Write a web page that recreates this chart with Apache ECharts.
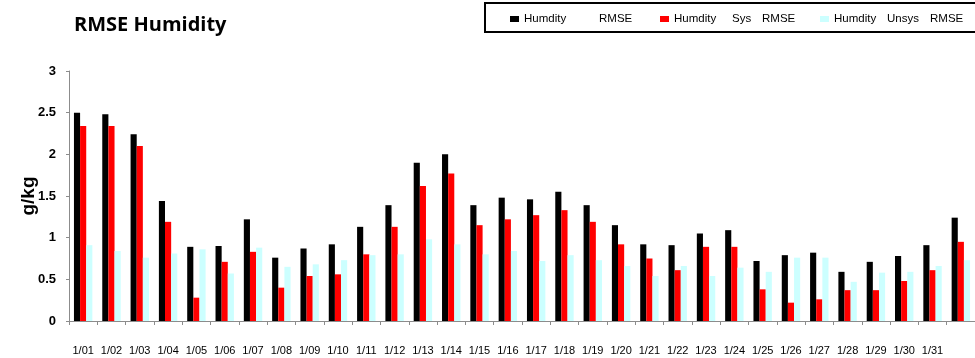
<!DOCTYPE html>
<html>
<head>
<meta charset="utf-8">
<script src="https://cdn.jsdelivr.net/npm/echarts@6/dist/echarts.min.js"></script>
<style>html,body{margin:0;padding:0;background:#fff;}#c{width:975px;height:358px;}</style>
</head>
<body>
<div id="c"></div>
<script>
const categories = ['1/01','1/02','1/03','1/04','1/05','1/06','1/07','1/08','1/09','1/10','1/11','1/12','1/13','1/14','1/15','1/16','1/17','1/18','1/19','1/20','1/21','1/22','1/23','1/24','1/25','1/26','1/27','1/28','1/29','1/30','1/31',''];
const rmse = [2.50,2.48,2.24,1.44,0.89,0.90,1.22,0.76,0.87,0.92,1.13,1.39,1.90,2.00,1.39,1.48,1.46,1.55,1.39,1.15,0.92,0.91,1.05,1.09,0.72,0.79,0.82,0.59,0.71,0.78,0.91,1.24];
const sysRmse = [2.34,2.34,2.10,1.19,0.28,0.71,0.83,0.40,0.54,0.56,0.80,1.13,1.62,1.77,1.15,1.22,1.27,1.33,1.19,0.92,0.75,0.61,0.89,0.89,0.38,0.22,0.26,0.37,0.37,0.48,0.61,0.95];
const unsysRmse = [0.91,0.84,0.76,0.81,0.86,0.57,0.88,0.65,0.68,0.73,0.79,0.80,0.98,0.92,0.80,0.84,0.72,0.79,0.73,0.66,0.54,0.66,0.54,0.64,0.59,0.76,0.76,0.47,0.58,0.59,0.66,0.73];
const yTicks = [0, 0.5, 1, 1.5, 2, 2.5, 3];
const seriesNames = ['Humdity RMSE', 'Humdity Sys RMSE', 'Humdity Unsys RMSE'];

const chart = echarts.init(document.getElementById('c'), null, {renderer: 'canvas'});
const F = 'Arial, "Liberation Sans", sans-serif';
function rs(w) { return w ? {width: w, fontSize: 11.5, fontFamily: F, color: '#000'} : {fontSize: 11.5, fontFamily: F, color: '#000'}; }
const rich = {
  h1: rs(75), h2: rs(58), h3: rs(53), s: rs(30), u: rs(43), t: rs(0)
};
function mkLegend(name, left, fmt) {
  return {
    left: left, top: 13, itemWidth: 9, itemHeight: 6, icon: 'rect', padding: 0,
    data: [name], formatter: function () { return fmt; },
    textStyle: {rich: rich}
  };
}
chart.setOption({
  animation: false,
  backgroundColor: '#fff',
  title: {
    text: 'RMSE Humidity', left: 69, top: 10,
    textStyle: {fontFamily: '"Open Sans", "Liberation Sans", sans-serif', fontWeight: 'bold', fontSize: 20, color: '#000'}
  },
  graphic: [{
    type: 'rect', shape: {x: 485, y: 3, width: 520, height: 29},
    style: {fill: 'none', stroke: '#000', lineWidth: 2}, z: 10
  }],
  legend: [
    mkLegend(seriesNames[0], 510, '{h1|Humdity}{t|RMSE}'),
    mkLegend(seriesNames[1], 660, '{h2|Humdity}{s|Sys}{t|RMSE}'),
    mkLegend(seriesNames[2], 820, '{h3|Humdity}{u|Unsys}{t|RMSE}')
  ],
  grid: {left: 69, right: 0, top: 71, bottom: 37, containLabel: false},
  xAxis: {
    type: 'category', data: categories,
    axisLine: {lineStyle: {color: '#8c8c8c', width: 1}},
    axisTick: {show: true, interval: 0, length: 4, lineStyle: {color: '#8c8c8c'}},
    axisLabel: {interval: 0, margin: 24, fontSize: 11, fontFamily: F, color: '#000'}
  },
  yAxis: {
    type: 'value', min: yTicks[0], max: yTicks[yTicks.length - 1], interval: 0.5,
    name: 'g/kg', nameLocation: 'middle', nameGap: 31, nameMoveOverlap: false,
    nameTextStyle: {fontSize: 19, fontWeight: 'bold', fontFamily: F, color: '#000'},
    axisLine: {show: true, lineStyle: {color: '#8c8c8c'}},
    axisTick: {show: true, length: 3, lineStyle: {color: '#8c8c8c'}},
    axisLabel: {margin: 13, fontSize: 13, fontWeight: 'bold', fontFamily: F, color: '#000'},
    splitLine: {show: false}
  },
  series: [
    {name: seriesNames[0], type: 'bar', data: rmse, barGap: '0%', barCategoryGap: '35%', itemStyle: {color: '#000000'}},
    {name: seriesNames[1], type: 'bar', data: sysRmse, itemStyle: {color: '#ff0000'}},
    {name: seriesNames[2], type: 'bar', data: unsysRmse, itemStyle: {color: '#ccffff'}}
  ]
});
</script>
</body>
</html>
